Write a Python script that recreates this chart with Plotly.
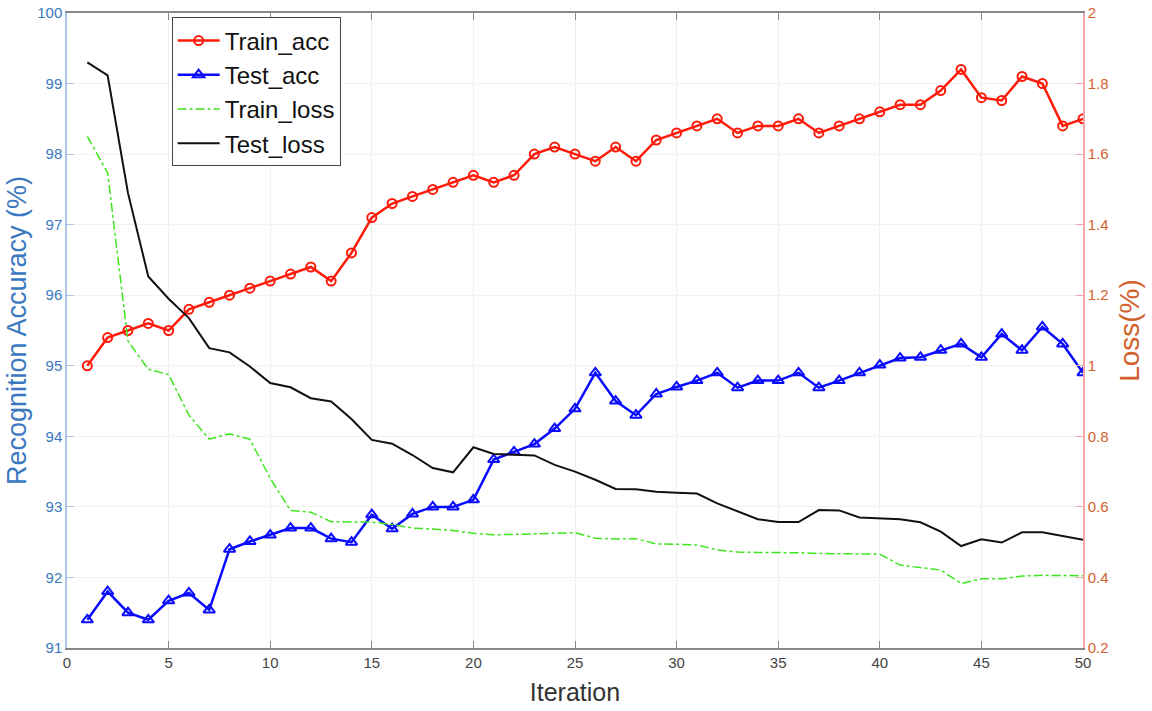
import plotly.graph_objects as go

iterations = list(range(1, 51))

train_acc = [95.0, 95.4, 95.5, 95.6, 95.5, 95.8, 95.9, 96.0, 96.1, 96.2,
             96.3, 96.4, 96.2, 96.6, 97.1, 97.3, 97.4, 97.5, 97.6, 97.7,
             97.6, 97.7, 98.0, 98.1, 98.0, 97.9, 98.1, 97.9, 98.2, 98.3,
             98.4, 98.5, 98.3, 98.4, 98.4, 98.5, 98.3, 98.4, 98.5, 98.6,
             98.7, 98.7, 98.9, 99.2, 98.8, 98.76, 99.1, 99.0, 98.4, 98.5]

test_acc = [91.4, 91.8, 91.5, 91.4, 91.67, 91.78, 91.54, 92.4, 92.51, 92.6,
            92.7, 92.7, 92.55, 92.5, 92.89, 92.69, 92.9, 93.0, 93.0, 93.1,
            93.67, 93.78, 93.89, 94.11, 94.39, 94.9, 94.5, 94.3, 94.6, 94.7,
            94.79, 94.9, 94.69, 94.79, 94.79, 94.9, 94.69, 94.79, 94.9, 95.01,
            95.11, 95.12, 95.22, 95.31, 95.12, 95.45, 95.22, 95.55, 95.31, 94.9]

train_loss = [1.65, 1.547, 1.07, 0.99, 0.975, 0.86, 0.792, 0.807, 0.792, 0.681,
              0.59, 0.585, 0.558, 0.557, 0.557, 0.55, 0.54, 0.537, 0.533, 0.525,
              0.521, 0.522, 0.524, 0.526, 0.527, 0.511, 0.509, 0.51, 0.495, 0.494,
              0.492, 0.478, 0.472, 0.471, 0.471, 0.47, 0.468, 0.467, 0.468, 0.466,
              0.435, 0.429, 0.421, 0.383, 0.396, 0.396, 0.404, 0.406, 0.406, 0.405]

test_loss = [1.86, 1.823, 1.49, 1.253, 1.19, 1.135, 1.05, 1.038, 0.998, 0.951,
             0.939, 0.908, 0.899, 0.849, 0.79, 0.779, 0.747, 0.71, 0.698, 0.769,
             0.75, 0.747, 0.746, 0.719, 0.70, 0.677, 0.651, 0.65, 0.643, 0.64,
             0.638, 0.61, 0.587, 0.565, 0.557, 0.557, 0.591, 0.59, 0.57, 0.567,
             0.565, 0.5565, 0.53, 0.489, 0.508, 0.499, 0.528, 0.528, 0.517, 0.507]

FONT = "Liberation Sans, Arial, Helvetica, sans-serif"
BLUE_TXT = "#3a78c0"
ORANGE_TXT = "#d2612c"

fig = go.Figure()

fig.add_trace(go.Scatter(
    x=iterations, y=train_acc, name="Train_acc", mode="lines+markers",
    line=dict(color="#ff1a0a", width=2.5),
    marker=dict(symbol="circle-open", size=9, color="#ff1a0a", line=dict(width=2)),
    yaxis="y"))

fig.add_trace(go.Scatter(
    x=iterations, y=test_acc, name="Test_acc", mode="lines+markers",
    line=dict(color="#0a0aff", width=2.5),
    marker=dict(symbol="triangle-up-open", size=10, color="#0a0aff", line=dict(width=2)),
    yaxis="y"))

fig.add_trace(go.Scatter(
    x=iterations, y=train_loss, name="Train_loss", mode="lines",
    line=dict(color="#3ee61e", width=1.5, dash="dashdot"),
    yaxis="y2"))

fig.add_trace(go.Scatter(
    x=iterations, y=test_loss, name="Test_loss", mode="lines",
    line=dict(color="#111111", width=2),
    yaxis="y2"))

fig.update_layout(
    width=1152, height=711,
    margin=dict(l=67, r=69, t=13, b=63),
    paper_bgcolor="white", plot_bgcolor="white",
    font=dict(family=FONT, size=14, color="#444444"),
    xaxis=dict(
        range=[0, 50], dtick=5, tick0=0, automargin=False,
        showline=True, linecolor="#888888", linewidth=1.5, mirror="ticks",
        ticks="inside", ticklen=7, tickcolor="#888888",
        showgrid=True, gridcolor="#efefef", zeroline=False,
        tickfont=dict(size=15, color="#444444"),
        title=dict(text="Iteration", font=dict(size=25, color="#333333"), standoff=14),
    ),
    yaxis=dict(
        range=[91, 100], dtick=1, automargin=False,
        showline=True, linecolor="#a9c6e4", linewidth=1.5,
        ticks="inside", ticklen=7, tickcolor="#a9c6e4",
        showgrid=True, gridcolor="#f2f2f2", zeroline=False,
        tickfont=dict(size=15, color=BLUE_TXT),
        title=dict(text="Recognition Accuracy (%)", font=dict(size=27, color=BLUE_TXT), standoff=3),
    ),
    yaxis2=dict(
        range=[0.2, 2], dtick=0.2, tick0=0.2, overlaying="y", side="right",
        automargin=False,
        showline=True, linecolor="#f3a6a6", linewidth=1.5,
        ticks="inside", ticklen=7, tickcolor="#f3a6a6",
        showgrid=False, zeroline=False,
        tickfont=dict(size=15, color=ORANGE_TXT),
        title=dict(text="Loss(%)", font=dict(size=28, color=ORANGE_TXT), standoff=12),
    ),
    legend=dict(
        x=0.103, y=0.993, xanchor="left", yanchor="top",
        bgcolor="white", bordercolor="#444444", borderwidth=1,
        font=dict(size=24, color="#111111"),
        itemwidth=42, tracegroupgap=0,
    ),
    showlegend=True,
)

fig.write_html("out.html")
